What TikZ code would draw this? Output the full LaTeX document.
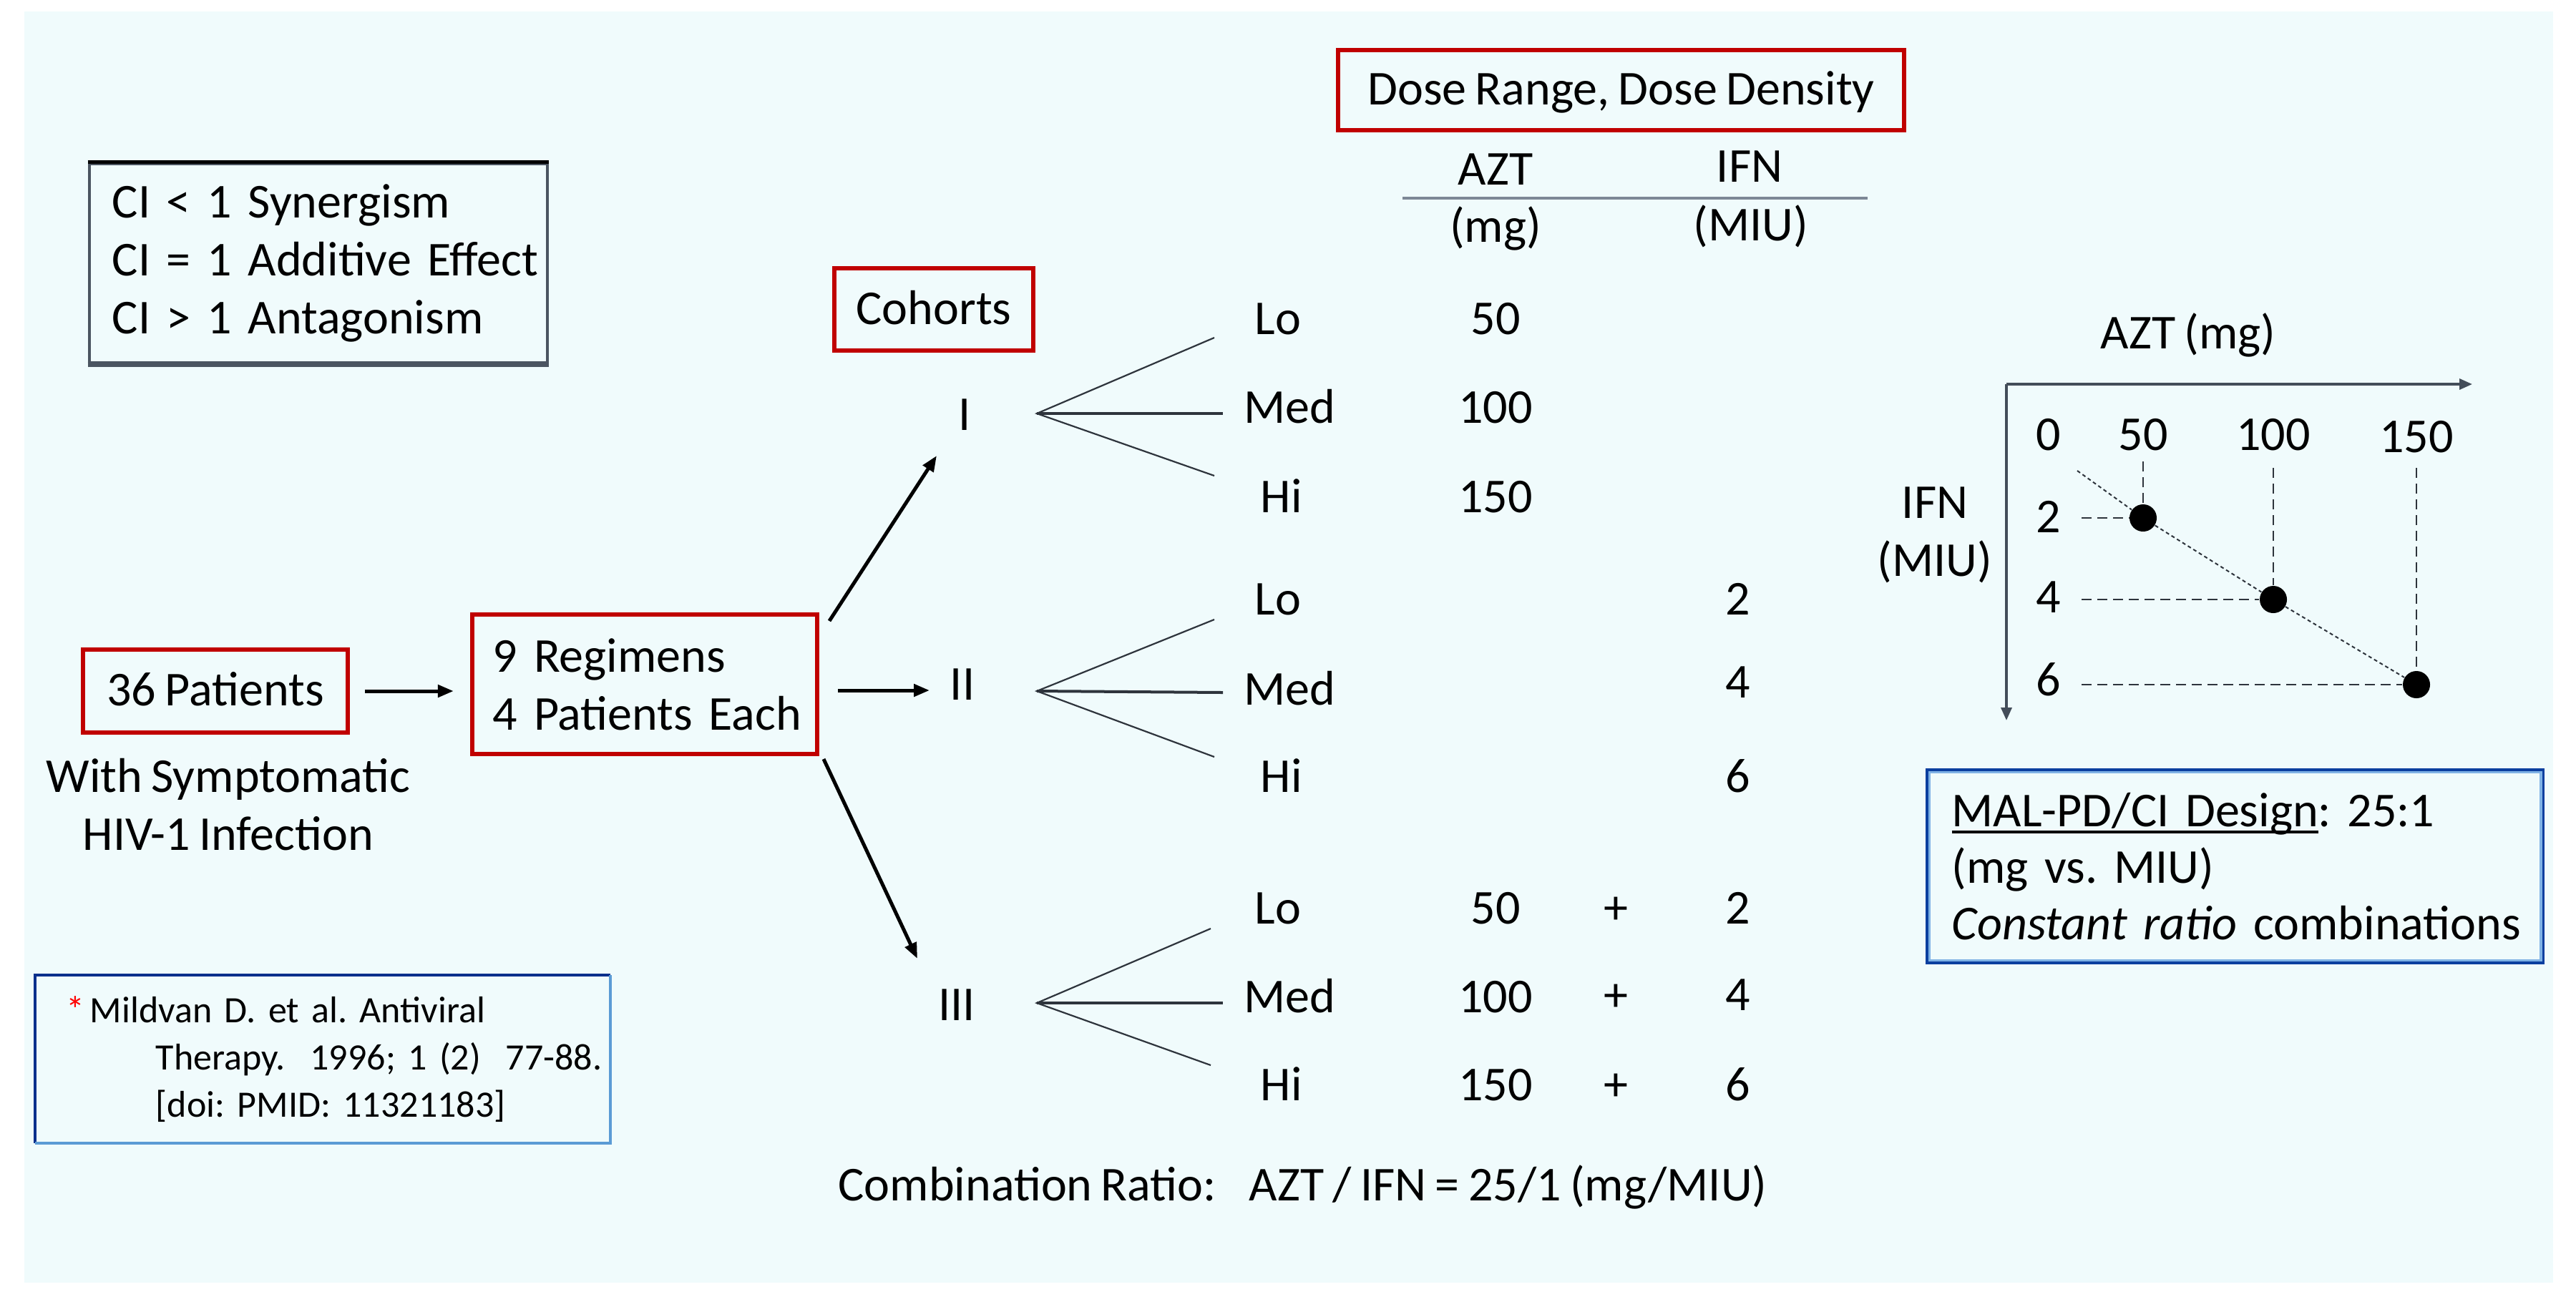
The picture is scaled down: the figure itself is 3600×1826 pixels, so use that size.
\documentclass[tikz,border=0pt]{standalone}
\usepackage{fontspec}
\setmainfont{Carlito}[WordSpace=0.8]
\usetikzlibrary{arrows.meta,calc}
\definecolor{bgc}{HTML}{F0FBFC}
\definecolor{boxred}{HTML}{C00000}
\definecolor{slate}{HTML}{4B5561}
\definecolor{navy}{HTML}{0A2F8C}
\definecolor{skyb}{HTML}{5B9BD5}
\definecolor{malb}{HTML}{0B3F9F}
\definecolor{mall}{HTML}{7FB2E5}
\definecolor{fang}{HTML}{2E343C}
\definecolor{axisc}{HTML}{434D59}
\definecolor{rulec}{HTML}{7D8896}
\newcommand\myul[1]{\setbox0\hbox{#1}\rlap{\rule[-0.1cm]{\wd0}{0.04cm}}\box0}
\frenchspacing
\begin{document}
\frenchspacing
\begin{tikzpicture}[x=0.01cm,y=-0.01cm,
  txt/.style={font=\fontsize{19.35pt}{23pt}\selectfont, inner sep=0pt},
  lbl/.style={txt, anchor=base},
  lblw/.style={txt, anchor=base west},
  redbox/.style={txt, draw=boxred, line width=0.06cm, fill=bgc},
  oneline/.style={text height=0.51cm, text depth=0.10cm},
  arr/.style={-{Triangle[length=0.22cm,width=0.17cm]}, line width=0.05cm, black},
  axarr/.style={-{Triangle[length=0.18cm,width=0.15cm]}, line width=0.035cm, axisc},
  fan/.style={line width=0.022cm, fang},
  fanmid/.style={line width=0.04cm, fang},
  dashl/.style={line width=0.025cm, fang, dash pattern=on 0.14cm off 0.08cm},
  diag/.style={line width=0.02cm, fang, dash pattern=on 0.05cm off 0.04cm},
  dot/.style={circle, fill=black, minimum size=0.38cm, inner sep=0pt}
]
\useasboundingbox (0,0) rectangle (3600,1826);
\fill[bgc] (34,16) rectangle (3568,1793);

% ---------- legend box
\node[txt, draw=slate, line width=0.045cm, fill=bgc, minimum width=6.40cm, minimum height=2.78cm,
      text width=5.76cm, align=left] (ci) at (445,368)
  {\mbox{CI < 1 Synergism}\\\mbox{CI = 1 Additive Effect}\\\mbox{CI > 1 Antagonism}};
\draw[black, line width=0.045cm] (ci.north west) -- (ci.north east);
\draw[slate, line width=0.07cm] (ci.south west) -- (ci.south east);

% ---------- patients
\node[redbox, oneline, minimum width=3.70cm, minimum height=1.16cm] (p36) at (301,966) {36 Patients};
\node[txt, align=center] (sympt) at (319,1125) {With Symptomatic\\HIV-1 Infection};
\node[redbox, minimum width=4.82cm, minimum height=1.95cm, text width=4.24cm, align=left] (reg9) at (901,956.5)
  {\mbox{9 Regimens}\\\mbox{4 Patients Each}};
\draw[arr, shorten <=0.21cm, shorten >=0.23cm] (p36.east) -- (p36.east -| reg9.west);

% ---------- reference box
\node[font=\fontsize{14.8pt}{18.8pt}\selectfont, inner sep=0pt, fill=bgc, minimum width=8.02cm, minimum height=2.33cm,
      text width=7.16cm, align=left] (ref) at (451,1480.5)
  {\mbox{\makebox[0.33cm][l]{\textcolor{red}{*}}Mildvan D. et al. Antiviral}\\
   \mbox{\hspace*{1.25cm}Therapy.\ \ 1996; 1 (2)\ \ 77-88.}\\
   \mbox{\hspace*{1.25cm}[doi: PMID: 11321183]}};
\draw[navy, line width=0.04cm] (ref.south west) -- (ref.north west) -- (ref.north east);
\draw[skyb, line width=0.04cm] (ref.north east) -- (ref.south east) -- (ref.south west);

% ---------- cohorts
\node[redbox, oneline, minimum width=2.78cm, minimum height=1.15cm] (coh) at (1305,432.5) {Cohorts};
\node[lbl] (cI) at (1348,601) {I};
\node[lbl] (cII) at (1345,978) {II};
\node[lbl] (cIII) at (1337,1426) {III};

\coordinate (aIs) at (1159,868);   \coordinate (aIe) at (1309,637);
\coordinate (aIIs) at (1171,965);  \coordinate (aIIe) at (1299,965);
\coordinate (aIIIs) at (1151,1061); \coordinate (aIIIe) at (1282,1340);
\draw[arr] (aIs) -- (aIe);
\draw[arr] (aIIs) -- (aIIe);
\draw[arr] (aIIIs) -- (aIIIe);

% ---------- fans
\coordinate (fI) at (1449,578);
\coordinate (fIlo) at (1697,472); \coordinate (fIme) at (1709,578); \coordinate (fIhi) at (1697,665);
\coordinate (fII) at (1449,966);
\coordinate (fIIlo) at (1697,866); \coordinate (fIIme) at (1709,968); \coordinate (fIIhi) at (1697,1058);
\coordinate (fIII) at (1449,1402);
\coordinate (fIIIlo) at (1692,1298); \coordinate (fIIIme) at (1709,1402); \coordinate (fIIIhi) at (1692,1489);
\draw[fan] (fIlo) -- (fI) -- (fIhi);   \draw[fanmid] (fI) -- (fIme);
\draw[fan] (fIIlo) -- (fII) -- (fIIhi); \draw[fanmid] (fII) -- (fIIme);
\draw[fan] (fIIIlo) -- (fIII) -- (fIIIhi); \draw[fanmid] (fIII) -- (fIIIme);

% dose levels
\node[lblw] (lo1) at (1753,467) {Lo};
\node[lblw] (me1) at (1738,591) {Med};
\node[lblw] (hi1) at (1761,716) {Hi};
\node[lblw] (lo2) at (1753,859) {Lo};
\node[lblw] (me2) at (1738,985) {Med};
\node[lblw] (hi2) at (1761,1107) {Hi};
\node[lblw] (lo3) at (1753,1291) {Lo};
\node[lblw] (me3) at (1738,1415) {Med};
\node[lblw] (hi3) at (1761,1538) {Hi};

% ---------- dose table
\node[redbox, oneline, minimum width=7.91cm, minimum height=1.12cm] (dose) at (2265.5,126) {Dose Range, Dose Density};
\node[lbl] (hAZT) at (2090,258) {AZT};
\node[lbl] (hIFN) at (2445,254) {IFN};
\node[lbl] (hmg) at (2090,338) {(mg)};
\node[lbl] (hmiu) at (2447,336) {(MIU)};
\coordinate (rl) at (1960,277); \coordinate (rr) at (2610,277);
\draw[rulec, line width=0.035cm] (rl) -- (rr);

\node[lbl] (v11) at (2090,467) {50};
\node[lbl] (v12) at (2090,591) {100};
\node[lbl] (v13) at (2090,716) {150};
\node[lbl] (v21) at (2429,859) {2};
\node[lbl] (v22) at (2429,975) {4};
\node[lbl] (v23) at (2429,1107) {6};
\node[lbl] (v31) at (2090,1291) {50};
\node[lbl] (v32) at (2090,1415) {100};
\node[lbl] (v33) at (2090,1538) {150};
\node[lbl] (p31) at (2258,1291) {+};
\node[lbl] (p32) at (2258,1413) {+};
\node[lbl] (p33) at (2258,1538) {+};
\node[lbl] (w31) at (2429,1291) {2};
\node[lbl] (w32) at (2429,1412) {4};
\node[lbl] (w33) at (2429,1538) {6};

\node[lblw] (comb) at (1171,1678) {Combination Ratio:\hspace{0.46cm}AZT / IFN = 25/1 (mg/MIU)};

% ---------- graph
\node[lbl] (gazt) at (3058,487) {AZT (mg)};
\coordinate (go) at (2804,537);
\coordinate (gx) at (3455,537);
\coordinate (gy) at (2804,1007);
\draw[axarr] (go) -- (gx);
\draw[axarr] (go) -- (gy);
\node[lbl] (t0) at (2863,629) {0};
\node[lbl] (t50) at (2995,629) {50};
\node[lbl] (t100) at (3177,629) {100};
\node[lbl] (t150) at (3377,632) {150};
\node[lbl] (i2) at (2863,744) {2};
\node[lbl] (i4) at (2863,856) {4};
\node[lbl] (i6) at (2863,972) {6};
\node[txt, align=center] (gifn) at (2704,748) {IFN\\(MIU)};

\node[dot] (d1) at (2995,724) {};
\node[dot] (d2) at (3177,838) {};
\node[dot] (d3) at (3377,957) {};
\coordinate (vs1) at (2995,645); \coordinate (vs2) at (3177,654); \coordinate (vs3) at (3377,654);
\coordinate (hs1) at (2909,724); \coordinate (hs2) at (2909,838); \coordinate (hs3) at (2909,957);
\coordinate (dg) at (2903,658);
\draw[dashl] (vs1) -- (d1);
\draw[dashl] (vs2) -- (d2);
\draw[dashl] (vs3) -- (d3);
\draw[dashl] (hs1) -- (d1);
\draw[dashl] (hs2) -- (d2);
\draw[dashl] (hs3) -- (d3);
\draw[diag] (dg) -- (d1);
\draw[diag] (d1) -- (d2);
\draw[diag] (d2) -- (d3);

% ---------- design box
\node[txt, font=\fontsize{19.35pt}{22.5pt}\selectfont, draw=malb, line width=0.05cm, fill=bgc,
      minimum width=8.59cm, minimum height=2.68cm, text width=7.91cm, align=left] (mal) at (3123.5,1211)
  {\mbox{\myul{MAL-PD/CI Design}: 25:1}\\\mbox{(mg vs. MIU)}\\\mbox{\textit{Constant ratio} combinations}};
\draw[mall, line width=0.035cm] ([shift={(5,5)}]mal.north west) rectangle ([shift={(-5,-5)}]mal.south east);
\end{tikzpicture}
\end{document}
